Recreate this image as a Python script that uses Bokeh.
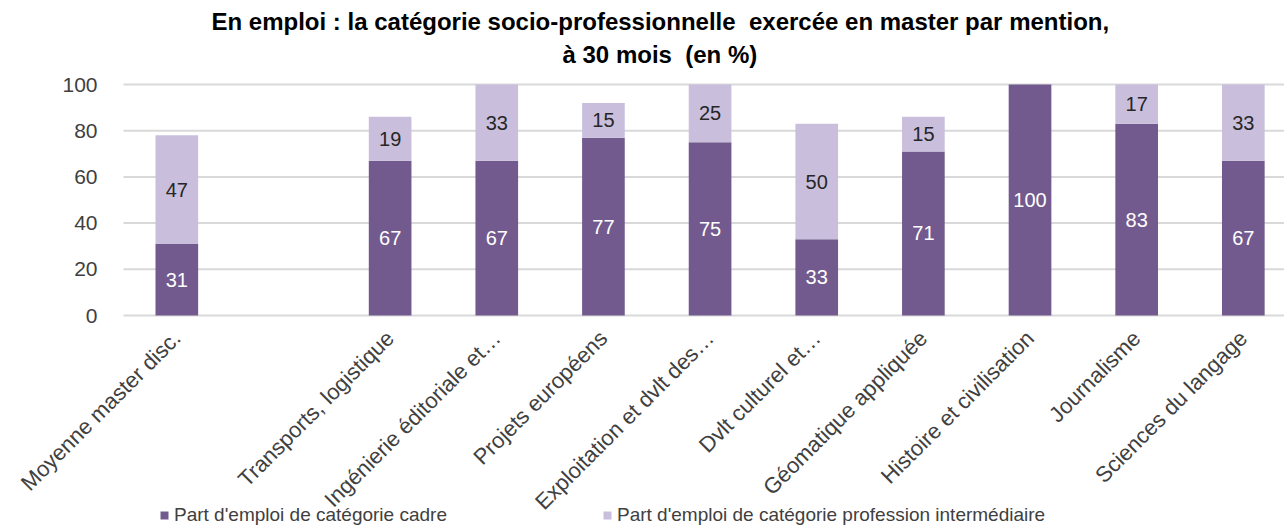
import math
from bokeh.plotting import figure
from bokeh.models import ColumnDataSource, Range1d, FixedTicker, Title
from bokeh.core.properties import value
from bokeh.embed import file_html
from bokeh.resources import INLINE

categories = ["Moyenne master disc.", "", "Transports, logistique", "Ingénierie éditoriale et…",
              "Projets européens", "Exploitation et dvlt des…", "Dvlt culturel et…",
              "Géomatique appliquée", "Histoire et civilisation", "Journalisme", "Sciences du langage"]
cadre = [31, 0, 67, 67, 77, 75, 33, 71, 100, 83, 67]
intermediaire = [47, 0, 19, 33, 15, 25, 50, 15, 0, 17, 33]
series_names = ["Part d'emploi de catégorie cadre", "Part d'emploi de catégorie profession intermédiaire"]
y_ticks = [0, 20, 40, 60, 80, 100]
title_lines = ["En emploi\u00a0: la catégorie socio-professionnelle \u00a0exercée en master par mention,",
               "à 30 mois \u00a0(en %)"]

DARK = "#725a8e"
LIGHT = "#c9bfdc"
GRID = "#d9d9d9"
FONT = "Liberation Sans"
TXT = "#404040"

W, H = 1284, 526
TOP_100 = 84                      # pixel row of value 100
FRAME_T = 72                      # frame top (room for the "100" label)
ZERO_X = 123                      # pixel column of category-axis start
ZERO_Y = 315                      # pixel row of value 0
CAT_W = 106.65                    # pixels per category
PX_PER_UNIT = (ZERO_Y - TOP_100) / 100.0
X_START = -ZERO_X / CAT_W
X_END = (W - ZERO_X) / CAT_W
Y_START = -(H - ZERO_Y) / PX_PER_UNIT
Y_END = 100 + (TOP_100 - FRAME_T) / PX_PER_UNIT

xs = [i + 0.5 for i in range(len(categories))]
src = ColumnDataSource(dict(x=xs, cadre=cadre, inter=intermediaire))

p = figure(width=W, height=H, output_backend="svg", toolbar_location=None,
           x_range=Range1d(X_START, X_END), y_range=Range1d(Y_START, Y_END),
           min_border_left=0, min_border_right=0, min_border_top=FRAME_T,
           min_border_bottom=0)
p.outline_line_color = None
p.background_fill_color = "white"
p.border_fill_color = "white"
p.grid.visible = False

# horizontal gridlines, starting at the category axis origin
p.segment(x0=[0] * len(y_ticks), x1=[X_END] * len(y_ticks), y0=y_ticks, y1=y_ticks,
          line_color=GRID, line_width=2)

p.vbar_stack(["cadre", "inter"], x="x", width=0.4, color=[DARK, LIGHT], source=src,
             legend_label=series_names, line_color=None)

# value labels
lx, ly, lt = [], [], []
for x, c in zip(xs, cadre):
    if c > 0:
        lx.append(x); ly.append(c / 2); lt.append(str(c))
p.text(lx, ly, text=lt, text_align="center", text_baseline="middle",
       text_font=value(FONT), text_font_size="20px", text_color="white")
dx, dy, dt = [], [], []
for x, c, m in zip(xs, cadre, intermediaire):
    if m > 0:
        dx.append(x); dy.append(c + m / 2); dt.append(str(m))
p.text(dx, dy, text=dt, text_align="center", text_baseline="middle",
       text_font=value(FONT), text_font_size="20px", text_color="#262626")

# value axis
p.yaxis.fixed_location = 0
p.yaxis.ticker = FixedTicker(ticks=y_ticks)
p.yaxis.axis_line_color = None
p.yaxis.major_tick_line_color = None
p.yaxis.minor_tick_line_color = None
p.yaxis.major_label_standoff = 20
p.yaxis.major_label_text_font = FONT
p.yaxis.major_label_text_font_size = "21px"
p.yaxis.major_label_text_color = TXT

# category axis
p.xaxis.fixed_location = 0
p.xaxis.ticker = FixedTicker(ticks=xs)
p.xaxis.major_label_overrides = {x: c for x, c in zip(xs, categories)}
p.xaxis.axis_line_color = None
p.xaxis.major_tick_line_color = None
p.xaxis.minor_tick_line_color = None
p.xaxis.major_label_orientation = math.pi / 4
p.xaxis.major_label_standoff = 13
p.xaxis.major_label_text_font = FONT
p.xaxis.major_label_text_font_size = "22px"
p.xaxis.major_label_text_color = TXT

# title (two lines)
t2 = Title(text=title_lines[1], align="left", offset=439 + ZERO_X, text_font=FONT,
           text_font_size="24px", text_font_style="bold", text_color="black", standoff=9)
t1 = Title(text=title_lines[0], align="left", offset=88 + ZERO_X, text_font=FONT,
           text_font_size="24px", text_font_style="bold", text_color="black", standoff=0)
p.add_layout(t2, "above")
p.add_layout(t1, "above")

# legend at the bottom of the frame
lg = p.legend[0]
lg.orientation = "horizontal"
lg.location = (159, 0)
lg.background_fill_alpha = 0
lg.border_line_color = None
lg.padding = 0
lg.margin = 0
lg.spacing = 155
lg.glyph_width = 10
lg.glyph_height = 10
lg.label_standoff = 5
lg.label_text_font = FONT
lg.label_text_font_size = "19px"
lg.label_text_color = TXT
lg.label_height = 20

open("out.html", "w").write(file_html(p, INLINE))
